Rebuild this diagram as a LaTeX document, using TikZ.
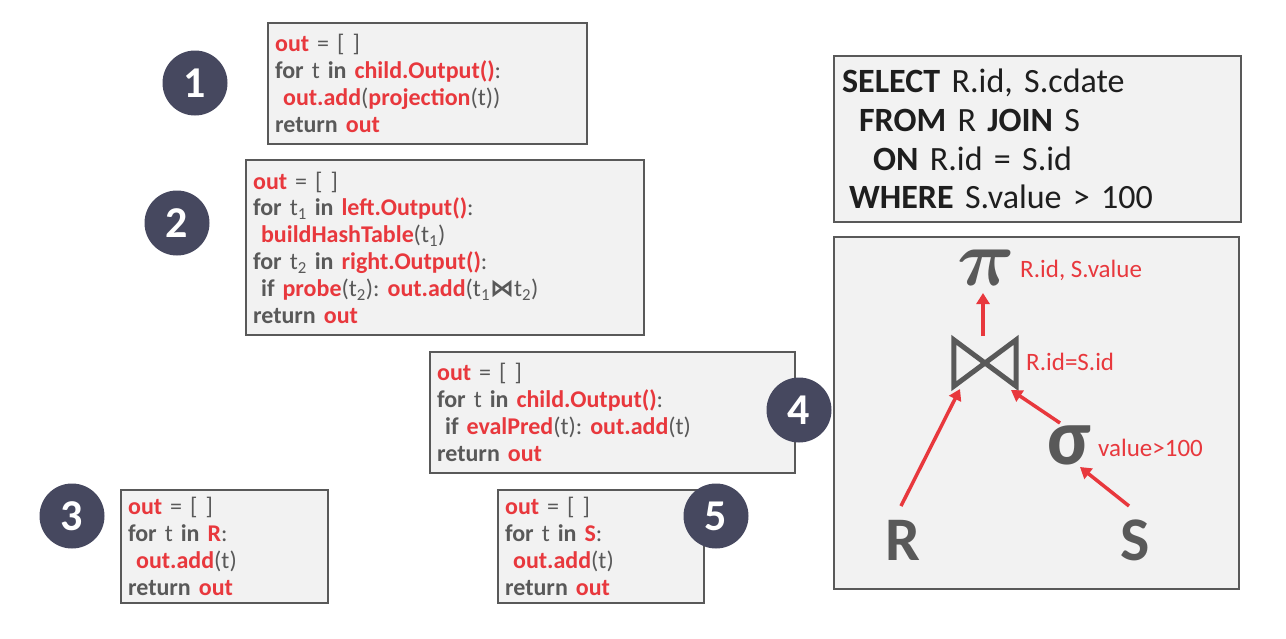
\documentclass[tikz,border=0pt]{standalone}
\usepackage{fontspec}
\usepackage{graphicx}
\usepackage{bm}
\setmainfont{Carlito}
\newfontfamily\djv{DejaVu Sans}
\usetikzlibrary{arrows.meta,calc}
\definecolor{myred}{HTML}{E8383D}
\definecolor{mygray}{HTML}{595959}
\definecolor{boxfill}{HTML}{F2F2F2}
\definecolor{navy}{HTML}{46485F}
\definecolor{sqlink}{HTML}{1E1E1E}
\newcommand\rb[1]{\textcolor{myred}{\textbf{#1}}}
\newcommand\kw[1]{\textbf{#1}}
\newcommand\sub[1]{\textsubscript{#1}}
\newcommand\pisym{\scalebox{8}{$\bm{\pi}$}}
\frenchspacing
\begin{document}
\begin{tikzpicture}[x=1pt,y=-1pt,
  codebox/.style={draw=mygray,line width=2.2pt,fill=boxfill,anchor=north west,
    inner xsep=7pt,inner ysep=0pt,align=left,text=mygray,
    font=\fontsize{24}{26.8}\selectfont},
  numcirc/.style={circle,fill=navy,minimum size=65pt,inner sep=0pt,text=white,
    font=\fontsize{44}{44}\selectfont\bfseries},
  treebox/.style={draw=mygray,line width=2.2pt,fill=boxfill,anchor=north west,inner sep=0pt},
  opsym/.style={text=mygray,inner sep=0pt},
  oplabel/.style={text=myred,anchor=west,inner sep=0pt,font=\fontsize{25}{25}\selectfont},
  arr/.style={draw=myred,line width=3.5pt,-{Triangle[length=11pt,width=13pt]}}
]
\useasboundingbox (0,0) rectangle (1286,638);

% code boxes
\node[codebox,minimum width=319pt,minimum height=121pt,text width=305pt] (b1) at (267,22)
 {\rb{out} = [ ]\\
  \kw{for} t \kw{in} \rb{child.Output()}:\\
  \ \rb{out.add}(\rb{projection}(t))\\
  \kw{return} \rb{out}};
\node[codebox,minimum width=398pt,minimum height=175pt,text width=384pt] (b2) at (245,159)
 {\rb{out} = [ ]\\
  \kw{for} t\sub{1} \kw{in} \rb{left.Output()}:\\
  \ \rb{buildHashTable}(t\sub{1})\\
  \kw{for} t\sub{2} \kw{in} \rb{right.Output()}:\\
  \ \kw{if} \rb{probe}(t\sub{2}): \rb{out.add}(t\sub{1}{\djv\bfseries ⋈}t\sub{2})\\
  \kw{return} \rb{out}};
\node[codebox,minimum width=365pt,minimum height=121pt,text width=351pt] (b4) at (429,351)
 {\rb{out} = [ ]\\
  \kw{for} t \kw{in} \rb{child.Output()}:\\
  \ \kw{if} \rb{evalPred}(t): \rb{out.add}(t)\\
  \kw{return} \rb{out}};
\node[codebox,minimum width=207pt,minimum height=113pt,text width=193pt] (b3) at (120,489)
 {\rb{out} = [ ]\\
  \kw{for} t \kw{in} \rb{R}:\\
  \ \rb{out.add}(t)\\
  \kw{return} \rb{out}};
\node[codebox,minimum width=206pt,minimum height=113pt,text width=192pt] (b5) at (497,489)
 {\rb{out} = [ ]\\
  \kw{for} t \kw{in} \rb{S}:\\
  \ \rb{out.add}(t)\\
  \kw{return} \rb{out}};

% numbers
\node[numcirc] (n1) at (195,83) {1};
\node[numcirc] (n2) at (177,223) {2};
\node[numcirc] (n3) at (72,516) {3};
\node[numcirc] (n4) at (799,410) {4};
\node[numcirc] (n5) at (716,516) {5};

% SQL box
\node[codebox,minimum width=405pt,minimum height=166pt,text width=391pt,text=sqlink,
  inner xsep=8pt,font=\fontsize{34}{38.8}\selectfont] (sql) at (833,55)
 {\kw{SELECT} R.id, S.cdate\\
  \hspace*{17pt}\kw{FROM} R \kw{JOIN} S\\
  \hspace*{31pt}\kw{ON} R.id = S.id\\
  \hspace*{7pt}\kw{WHERE} S.value > 100};

% tree box
\node[treebox,minimum width=405pt,minimum height=352pt] (tree) at (833,236) {};

\node[opsym] (projop) at (986,268) {\pisym};
\node[opsym,minimum width=62pt,minimum height=46pt] (joinop) at (985,363) {};
\draw[mygray,line width=5pt,line join=miter,miter limit=3]
  (joinop.north west) -- (joinop.south west) -- (joinop.north east) -- (joinop.south east) -- cycle;
\node[opsym,font=\fontsize{80}{80}\selectfont\bfseries] (selop) at (1069,445) {σ};
\node[opsym,font=\fontsize{62}{62}\selectfont\bfseries] (relR) at (903,540) {R};
\node[opsym,font=\fontsize{62}{62}\selectfont\bfseries] (relS) at (1135,540) {S};

\node[oplabel] (lproj) at (1020,270) {R.id, S.value};
\node[oplabel] (ljoin) at (1026,362) {R.id=S.id};
\node[oplabel] (lsel) at (1098,448) {value>100};

\draw[arr] ($(joinop.center)+(-2,-27)$) -- ($(projop.center)+(-3,25)$);
\draw[arr] ($(relR.center)+(-2,-34)$) -- ($(joinop.center)+(-25,26)$);
\draw[arr] ($(selop.center)+(-9,-22)$) -- ($(joinop.center)+(26,27)$);
\draw[arr] ($(relS.center)+(-6,-34)$) -- ($(selop.center)+(11,22)$);
\end{tikzpicture}
\end{document}
